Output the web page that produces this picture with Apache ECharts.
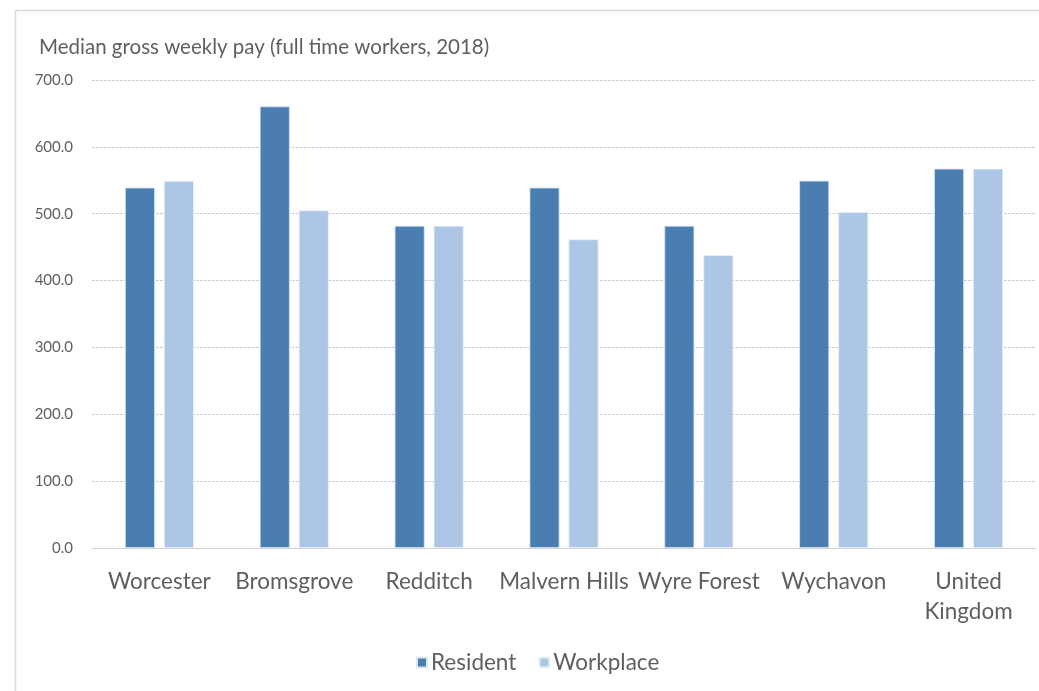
<!DOCTYPE html>
<html>
<head>
<meta charset="utf-8">
<script src="https://cdn.jsdelivr.net/npm/echarts@6/dist/echarts.min.js"></script>
<style>
html,body{margin:0;padding:0;background:#fff;}
#chart{width:1039px;height:691px;}
</style>
</head>
<body>
<div id="chart"></div>
<script>
const categories = ['Worcester', 'Bromsgrove', 'Redditch', 'Malvern Hills', 'Wyre Forest', 'Wychavon', 'United\nKingdom'];
const resident = [539.0, 660.5, 482.0, 539.0, 482.0, 549.4, 567.3];
const workplace = [549.0, 505.0, 482.0, 461.7, 438.0, 502.5, 567.3];
const yTicks = [0, 100, 200, 300, 400, 500, 600, 700];
const title = 'Median gross weekly pay (full time workers, 2018)';

const FONT = 'Lato, "Open Sans", sans-serif';
const chart = echarts.init(document.getElementById('chart'));
chart.setOption({
  animation: false,
  backgroundColor: '#fff',
  textStyle: { fontFamily: FONT },
  graphic: [{
    type: 'rect', left: 13, top: 8,
    shape: { width: 1100, height: 800 },
    style: { fill: 'none', stroke: '#d9d9d9', lineWidth: 1.5 },
    silent: true
  }],
  title: {
    text: title, left: 39, top: 37, padding: 0,
    textStyle: { fontFamily: FONT, fontSize: 20.5, fontWeight: 'normal', color: '#5f5f5f' }
  },
  legend: {
    data: ['Resident', 'Workplace'],
    top: 646, left: 411,
    itemWidth: 10, itemHeight: 10, itemGap: 22,
    icon: 'rect',
    textStyle: { fontFamily: FONT, fontSize: 22.5, color: '#5f5f5f', padding: [0, 0, 0, -1] }
  },
  grid: { left: 92, right: 3, top: 80, bottom: 143, containLabel: false },
  xAxis: {
    type: 'category', data: categories,
    axisLine: { lineStyle: { color: '#d0d0d0', width: 1 } },
    axisTick: { show: false },
    axisLabel: { fontFamily: FONT, fontSize: 22.5, color: '#5f5f5f', margin: 19, lineHeight: 30, interval: 0 }
  },
  yAxis: {
    type: 'value', min: 0, max: 700, interval: 100,
    axisLine: { show: false }, axisTick: { show: false },
    axisLabel: { fontFamily: FONT, fontSize: 15, color: '#5f5f5f', margin: 19,
      formatter: v => yTicks.includes(v) ? v.toFixed(1) : '' },
    splitLine: { lineStyle: { color: '#d0d0d0', type: [3, 1], width: 1 } }
  },
  series: [
    { name: 'Resident', type: 'bar', data: resident, barWidth: 30, barGap: '30%',
      itemStyle: { color: '#4a7eb0', borderColor: '#dbe6f2', borderWidth: 0.8 } },
    { name: 'Workplace', type: 'bar', data: workplace, barWidth: 30,
      itemStyle: { color: '#aec6e6', borderColor: '#e8f0f9', borderWidth: 0.8 } }
  ]
});
</script>
</body>
</html>
